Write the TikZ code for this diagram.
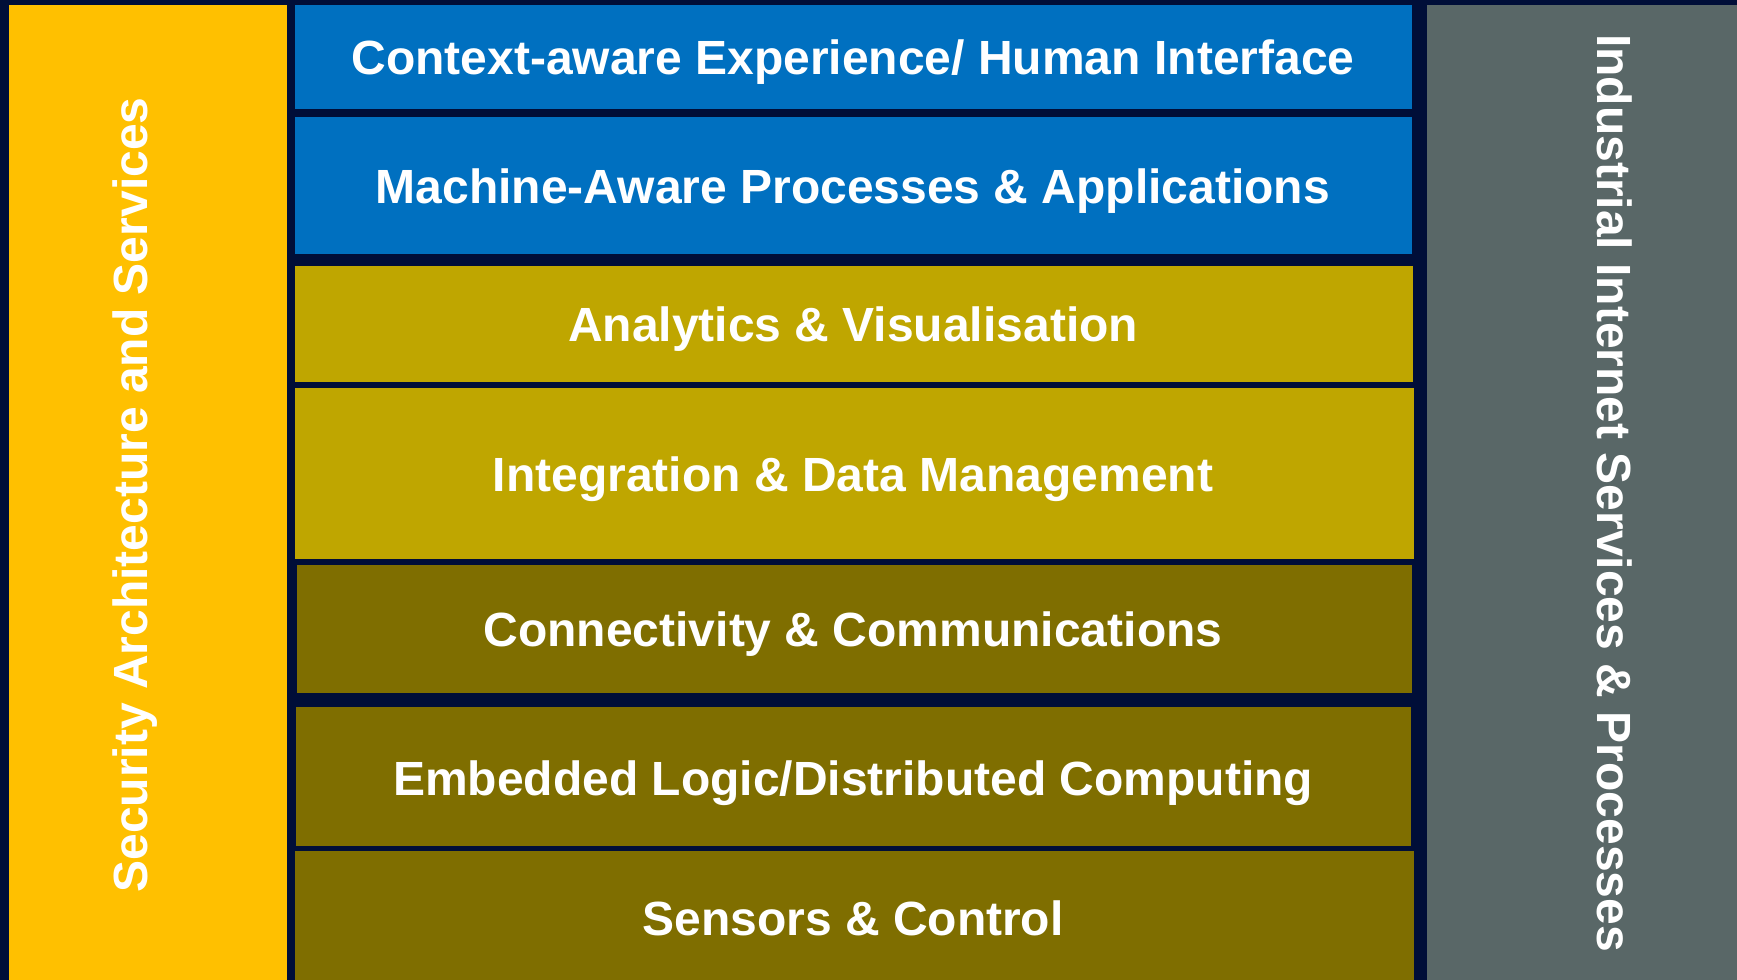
\documentclass[tikz,border=0pt]{standalone}
\usepackage{fontspec}
\setmainfont{Liberation Sans}
\definecolor{bgnavy}{HTML}{000E38}
\definecolor{secyellow}{HTML}{FFC000}
\definecolor{layblue}{HTML}{0070C0}
\definecolor{layolive}{HTML}{BFA600}
\definecolor{laydark}{HTML}{7F6E00}
\definecolor{sidegray}{HTML}{596767}
\tikzset{
  lay/.style={inner sep=0pt, outer sep=0pt, text=white, font=\bfseries\fontsize{36pt}{40pt}\selectfont},
  vlab/.style={text=white, font=\bfseries\fontsize{36pt}{40pt}\selectfont, inner sep=0pt},
}
\begin{document}
\begin{tikzpicture}[x=0.75pt,y=-0.75pt]
\fill[bgnavy] (0,0) rectangle (1737,980);
\useasboundingbox (0,0) rectangle (1737,980);
% side bars
\fill[secyellow] (9,5) rectangle (287,980);
\fill[sidegray] (1427,5) rectangle (1737,980);
% layers
\fill[layblue] (295,5) rectangle (1412,109);
\fill[layblue] (295,117) rectangle (1412,254);
\fill[layolive] (295,266) rectangle (1413,382);
\fill[layolive] (295,388) rectangle (1414,559);
\fill[laydark] (297,565) rectangle (1412,693);
\fill[laydark] (296,707) rectangle (1411,846);
\fill[laydark] (295,851) rectangle (1414,980);
\node[lay] (l1) at (853,62.5) {Context-aware Experience/ Human Interface};
\node[lay] (l2) at (853,191.5) {Machine-Aware Processes \& Applications};
\node[lay] (l3) at (853,329.5) {Analytics \& Visualisation};
\node[lay] (l4) at (853,479.5) {Integration \& Data Management};
\node[lay] (l5) at (853,634.5) {Connectivity \& Communications};
\node[lay] (l6) at (853,783.5) {Embedded Logic/Distributed Computing};
\node[lay] (l7) at (853,918) {Sensors \& Control};
\node[vlab, rotate=90] (sec) at (135,495) {Security Architecture and Services};
\node[vlab, rotate=-90] (ind) at (1615,493) {Industrial Internet Services \& Processes};
\end{tikzpicture}
\end{document}
